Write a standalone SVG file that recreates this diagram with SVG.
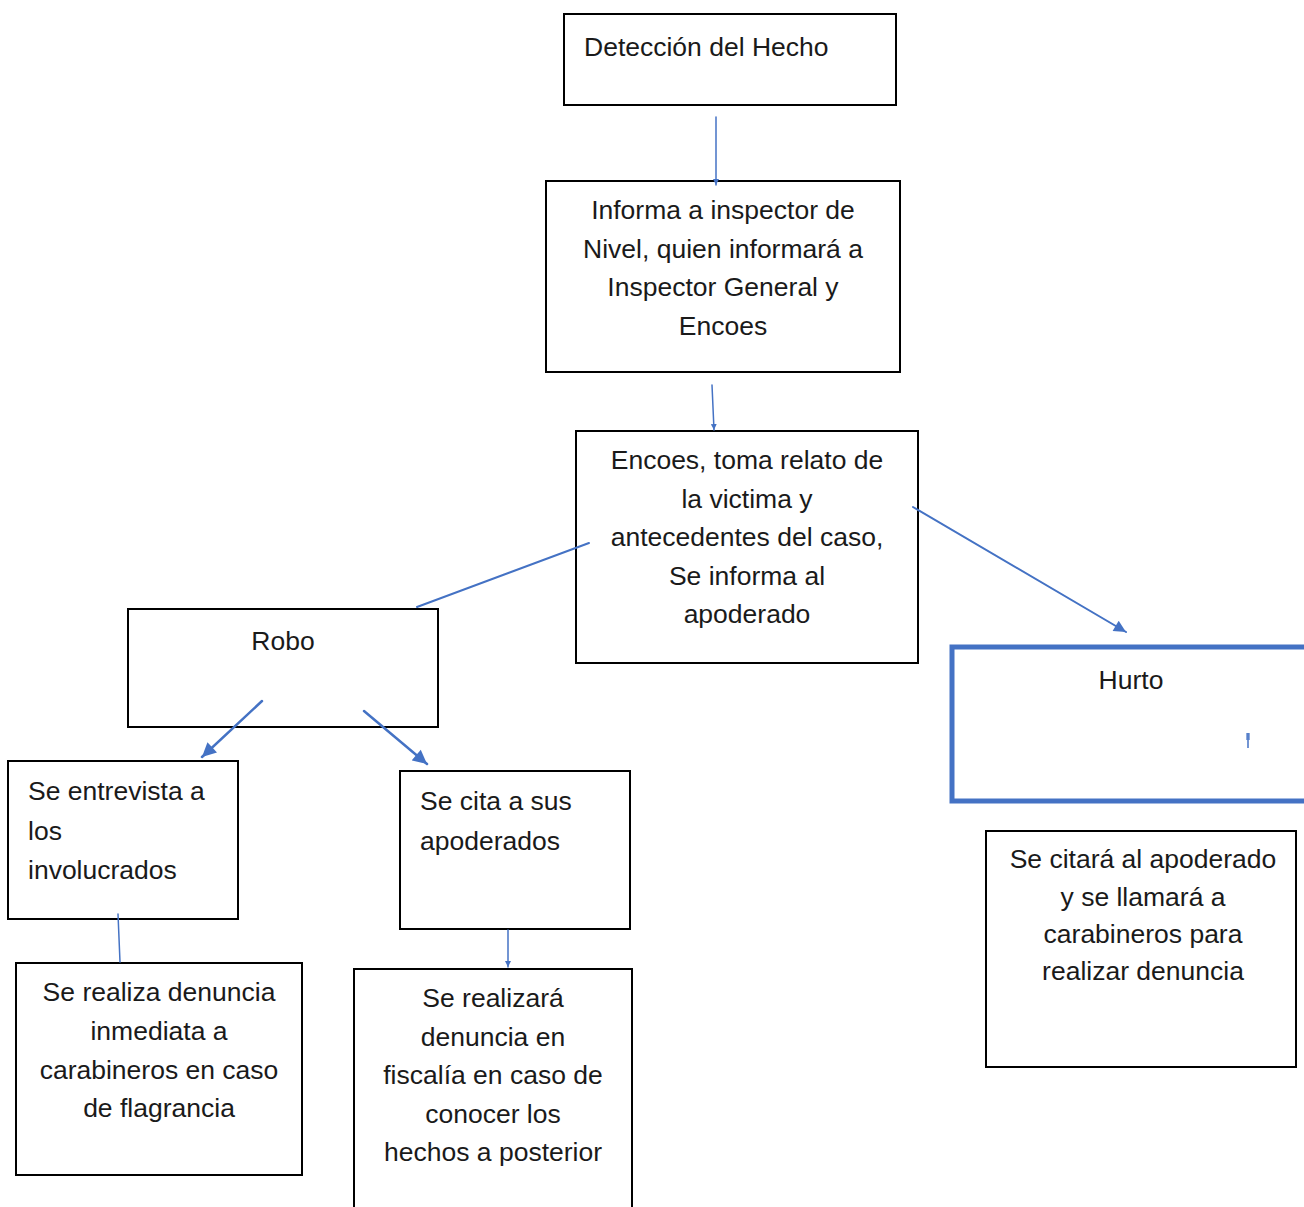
<svg xmlns="http://www.w3.org/2000/svg" width="1304" height="1207" viewBox="0 0 1304 1207">
  <defs>
    <style>
      .box { fill: #ffffff; stroke: #000000; stroke-width: 2; }
      .hbox { fill: #ffffff; stroke: #4472C4; stroke-width: 5; }
      .t { font-family: "Liberation Sans", Arial, sans-serif; font-size: 26.5px; fill: #1a1a1a; }
      .c { text-anchor: middle; }
      .ln { stroke: #4472C4; fill: none; stroke-linecap: round; }
    </style>
    <marker id="ahs" viewBox="0 0 10 10" refX="10" refY="5" markerWidth="6" markerHeight="6" markerUnits="userSpaceOnUse" orient="auto">
      <path d="M0,0 L10,5 L0,10 z" fill="#4472C4"/>
    </marker>
    <marker id="ahm" viewBox="0 0 10 10" refX="10" refY="5" markerWidth="14" markerHeight="12" markerUnits="userSpaceOnUse" orient="auto">
      <path d="M0,0 L10,5 L0,10 z" fill="#4472C4"/>
    </marker>
    <marker id="ahl" viewBox="0 0 10 10" refX="10" refY="5" markerWidth="15" markerHeight="14" markerUnits="userSpaceOnUse" orient="auto">
      <path d="M0,0 L10,5 L0,10 z" fill="#4472C4"/>
    </marker>
  </defs>
  <rect width="1304" height="1207" fill="#ffffff"/>

  <g id="n-deteccion">
    <rect class="box" x="564" y="14" width="332" height="91"/>
    <text class="t" x="584" y="56">Detección del Hecho</text>
  </g>

  <g id="n-informa">
    <rect class="box" x="546" y="181" width="354" height="191"/>
    <text class="t c" x="723" y="219">Informa a inspector de</text>
    <text class="t c" x="723" y="257.5">Nivel, quien informará a</text>
    <text class="t c" x="723" y="296">Inspector General y</text>
    <text class="t c" x="723" y="334.5">Encoes</text>
  </g>

  <g id="n-encoes">
    <rect class="box" x="576" y="431" width="342" height="232"/>
    <text class="t c" x="747" y="469">Encoes, toma relato de</text>
    <text class="t c" x="747" y="507.5">la victima y</text>
    <text class="t c" x="747" y="546">antecedentes del caso,</text>
    <text class="t c" x="747" y="584.5">Se informa al</text>
    <text class="t c" x="747" y="623">apoderado</text>
  </g>

  <g id="n-robo">
    <rect class="box" x="128" y="609" width="310" height="118"/>
    <text class="t c" x="283" y="650">Robo</text>
  </g>

  <g id="n-hurto">
    <rect class="hbox" x="952" y="647" width="400" height="154"/>
    <text class="t c" x="1131" y="689">Hurto</text>
    <rect x="1246" y="733" width="4" height="7" fill="#8FAADC"/>
    <line x1="1248" y1="733" x2="1248" y2="748" stroke="#4472C4" stroke-width="1.5"/>
  </g>

  <g id="n-entrevista">
    <rect class="box" x="8" y="761" width="230" height="158"/>
    <text class="t" x="28" y="800">Se entrevista a</text>
    <text class="t" x="28" y="839.5">los</text>
    <text class="t" x="28" y="879">involucrados</text>
  </g>

  <g id="n-cita">
    <rect class="box" x="400" y="771" width="230" height="158"/>
    <text class="t" x="420" y="810">Se cita a sus</text>
    <text class="t" x="420" y="849.5">apoderados</text>
  </g>

  <g id="n-realiza">
    <rect class="box" x="16" y="963" width="286" height="212"/>
    <text class="t c" x="159" y="1001">Se realiza denuncia</text>
    <text class="t c" x="159" y="1040">inmediata a</text>
    <text class="t c" x="159" y="1079">carabineros en caso</text>
    <text class="t c" x="159" y="1117">de flagrancia</text>
  </g>

  <g id="n-realizara">
    <rect class="box" x="354" y="969" width="278" height="250"/>
    <text class="t c" x="493" y="1007">Se realizará</text>
    <text class="t c" x="493" y="1045.5">denuncia en</text>
    <text class="t c" x="493" y="1084">fiscalía en caso de</text>
    <text class="t c" x="493" y="1122.5">conocer los</text>
    <text class="t c" x="493" y="1161">hechos a posterior</text>
  </g>

  <g id="n-citara">
    <rect class="box" x="986" y="831" width="310" height="236"/>
    <text class="t c" x="1143" y="868">Se citará al apoderado</text>
    <text class="t c" x="1143" y="905.5">y se llamará a</text>
    <text class="t c" x="1143" y="943">carabineros para</text>
    <text class="t c" x="1143" y="980">realizar denuncia</text>
  </g>

  <g id="connectors">
    <line class="ln" x1="716" y1="117" x2="716" y2="185" stroke-width="1.5" marker-end="url(#ahs)"/>
    <line class="ln" x1="712" y1="385" x2="714" y2="430" stroke-width="1.5" marker-end="url(#ahs)"/>
    <line class="ln" x1="589" y1="543" x2="417" y2="607" stroke-width="2"/>
    <line class="ln" x1="913" y1="507" x2="1126" y2="632" stroke-width="2" marker-end="url(#ahm)"/>
    <line class="ln" x1="262" y1="701" x2="202" y2="757" stroke-width="2.5" marker-end="url(#ahl)"/>
    <line class="ln" x1="364" y1="711" x2="427" y2="764" stroke-width="2.5" marker-end="url(#ahl)"/>
    <line class="ln" x1="118" y1="914" x2="120" y2="962" stroke-width="1.5"/>
    <line class="ln" x1="508" y1="930" x2="508" y2="967" stroke-width="1.5" marker-end="url(#ahs)"/>
  </g>
</svg>
